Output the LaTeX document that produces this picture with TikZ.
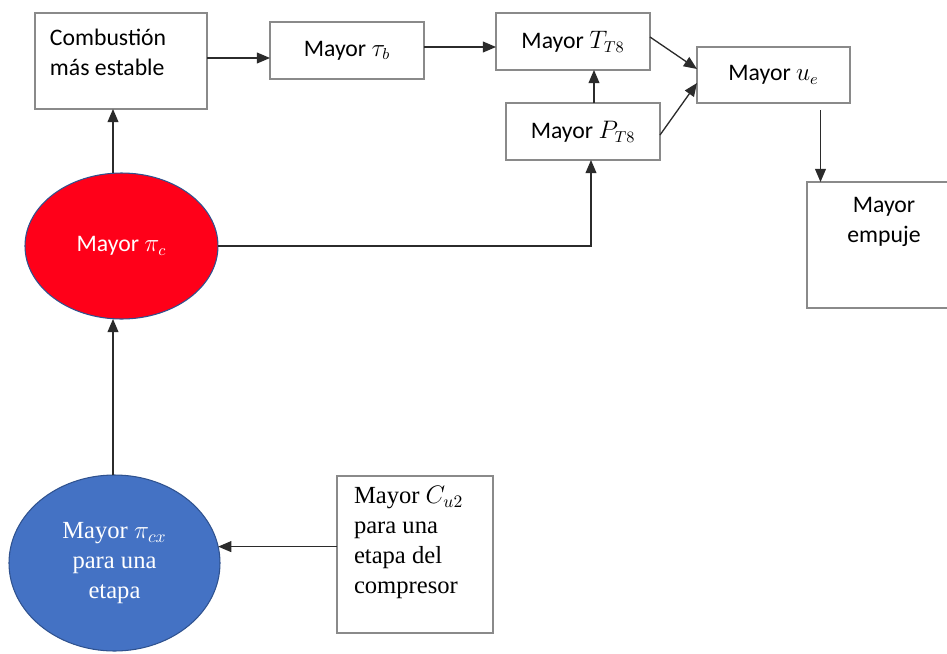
\documentclass[tikz,border=0pt]{standalone}
\usepackage{fontspec}
\setmainfont{Carlito}
\newfontfamily\timesfont{Liberation Serif}
\usetikzlibrary{arrows.meta,shapes.geometric}

\definecolor{boxgray}{HTML}{8A8A8A}
\definecolor{linegray}{HTML}{2B2B2B}
\definecolor{hotred}{HTML}{FF0019}
\definecolor{midblue}{HTML}{4472C4}
\definecolor{rimblue}{HTML}{2F528F}

\begin{document}
\begin{tikzpicture}[x=0.02cm,y=-0.02cm,
  every node/.style={inner sep=0pt,outer sep=0pt},
  sanstext/.style={font=\fontsize{13.5}{17.2}\selectfont},
  seriftext/.style={font=\timesfont\fontsize{14}{17.2}\selectfont},
  boxnode/.style={draw=boxgray,line width=0.6pt,rectangle,sanstext},
  oval/.style={draw=rimblue,line width=0.6pt,ellipse},
  arr/.style={draw=linegray,line width=0.75pt,
    -{Triangle[length=7.5pt,width=6.2pt]}},
  plain/.style={draw=linegray,line width=0.75pt}]
\useasboundingbox (0,0) rectangle (947,653);
\begin{scope}
\clip (0,0) rectangle (947,653);

% upper chain of boxes
\node[boxnode,minimum width=172*0.02cm,minimum height=96*0.02cm] (comb) at (121,61) {};
\node[sanstext,anchor=north west,align=left] (combtxt) at (50,29) {Combustión\\más estable};
\node[boxnode,minimum width=154*0.02cm,minimum height=57*0.02cm] (taub) at (347,50.5) {Mayor $\tau_b$};
\node[boxnode,minimum width=154*0.02cm,minimum height=57*0.02cm] (tt8) at (573,41.5) {Mayor $T_{T8}$};
\node[boxnode,minimum width=154*0.02cm,minimum height=57*0.02cm] (pt8) at (583,131.5) {Mayor $P_{T8}$};
\node[boxnode,minimum width=153*0.02cm,minimum height=56*0.02cm] (ue) at (773.5,75) {Mayor $u_e$};
\node[boxnode,minimum width=158*0.02cm,minimum height=126*0.02cm] (emp) at (886,245) {};
\node[sanstext,anchor=north,align=center] (emptxt) at (884,197) {Mayor\\empuje};

% ovals
\node[oval,fill=hotred,minimum width=193*0.02cm,minimum height=146*0.02cm,
  sanstext,text=white] (red) at (121.5,246) {Mayor $\pi_c$};
\node[oval,fill=midblue,minimum width=211*0.02cm,minimum height=176*0.02cm,
  seriftext,text=white,align=center] (blue) at (114.5,563) {Mayor $\pi_{cx}$\\para una\\etapa};

% compressor stage box
\node[draw=boxgray,line width=0.6pt,rectangle,minimum width=156*0.02cm,
  minimum height=157*0.02cm] (cu2) at (415,554.5) {};
\node[seriftext,anchor=north west,align=left] (cu2txt) at (354,486)
  {Mayor $C_{u2}$\\para una\\etapa del\\compresor};

% connectors
\draw[arr] (comb.east |- 0,58) -- (taub.west |- 0,58);
\draw[arr] (taub.east |- 0,47) -- (tt8.west |- 0,47);
\draw[arr] (tt8.east |- 0,37) -- (ue.west |- 0,69);
\draw[arr] (pt8.east |- 0,135) -- (ue.west |- 0,83);
\draw[arr] (pt8.north -| 594,0) -- (tt8.south -| 594,0);
\coordinate (uedrop) at (820.5,110);
\draw[arr] (uedrop) -- (emp.north -| uedrop);
\draw[arr] (red.north -| 113,0) -- (comb.south -| 113,0);
\draw[arr] (red.east) -| (pt8.south -| 591,0);
\draw[arr] (blue.north -| 113,0) -- (red.south -| 113,0);
\draw[arr] (cu2.west |- blue.9) -- (blue.9);
\end{scope}
\end{tikzpicture}
\end{document}
